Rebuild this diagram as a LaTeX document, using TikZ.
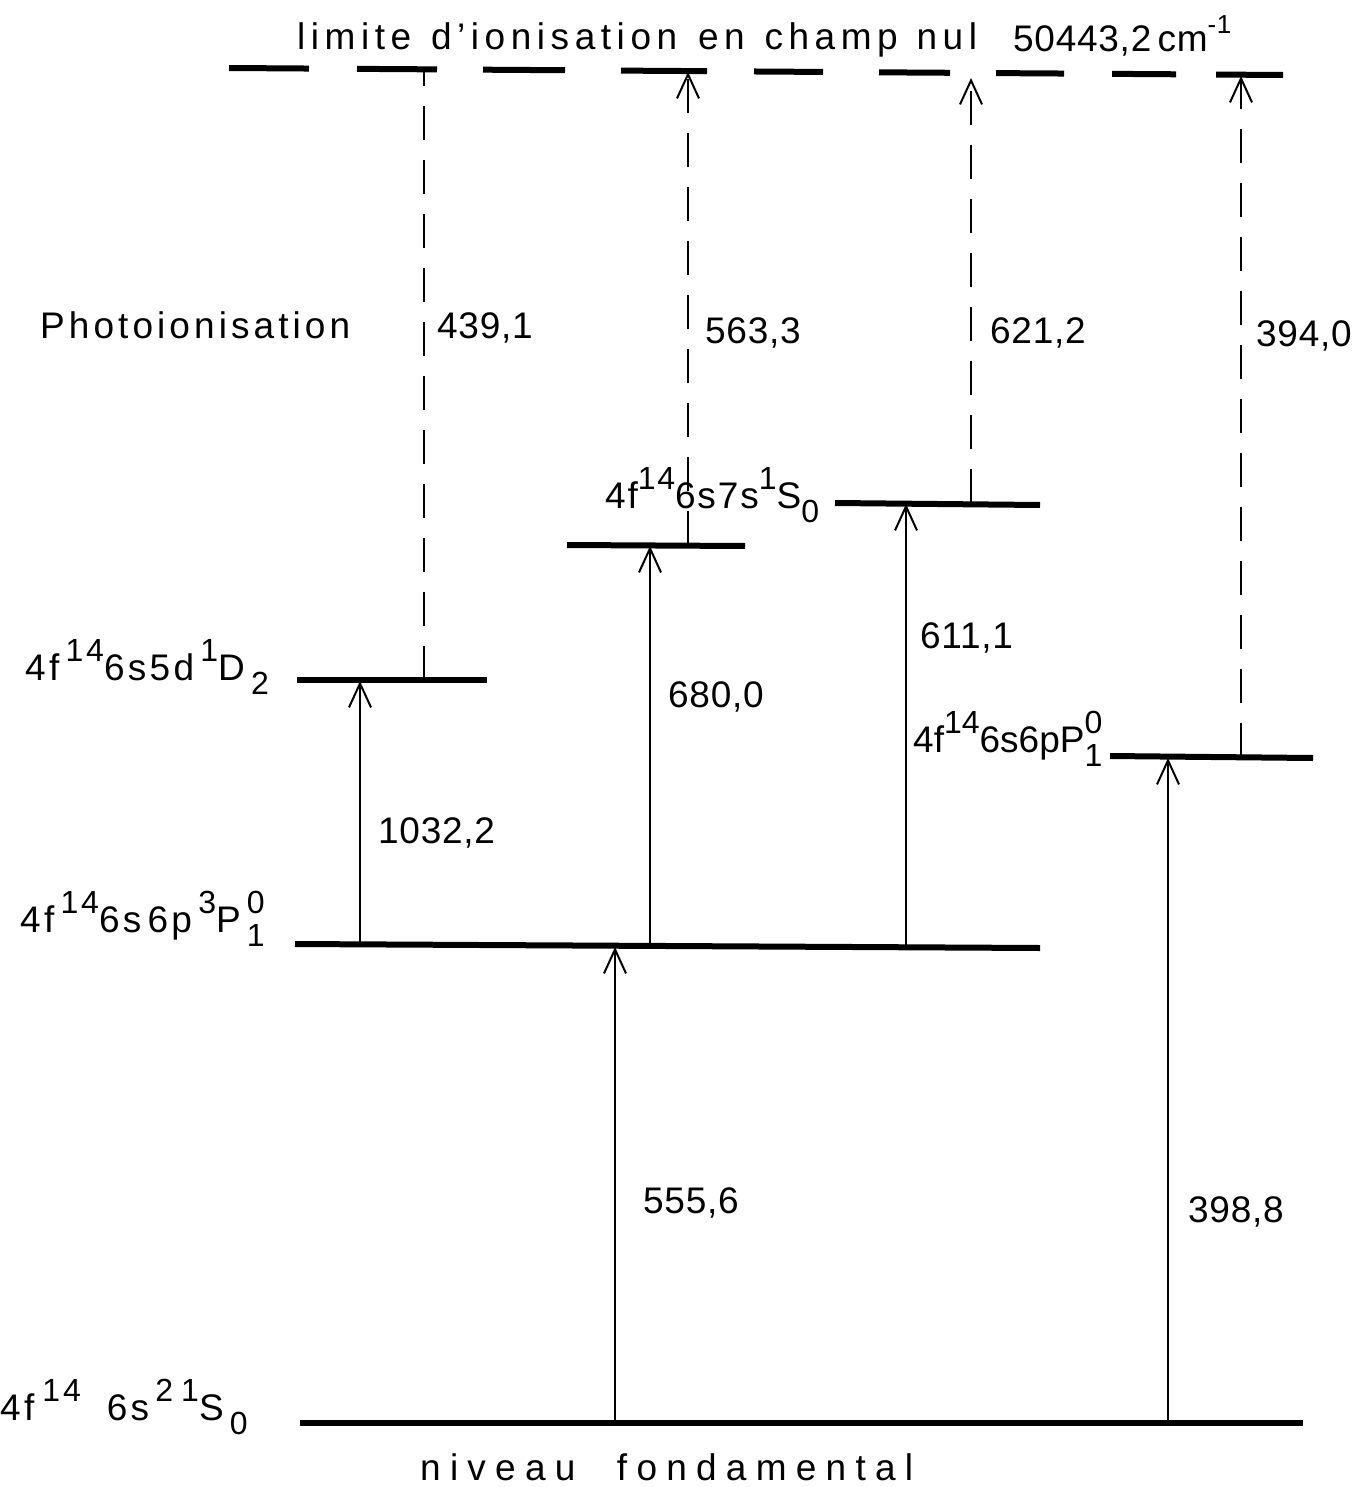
\documentclass[tikz,border=0pt]{standalone}
\usepackage{fontspec}
\setmainfont{Liberation Sans}
\usetikzlibrary{arrows.meta}
\newcommand\hi[1]{\raisebox{0.5em}{\fontsize{32}{32}\selectfont #1}}
\newcommand\lo[1]{\raisebox{-0.4em}{\fontsize{32}{32}\selectfont #1}}
\newcommand\ls[1]{\addfontfeature{LetterSpace=#1}}
\newcommand\gap[1]{\hspace{#1pt}}
\begin{document}
\begin{tikzpicture}[x=1pt,y=-1pt,
  level/.style={line width=6pt},
  barb/.style={-{Straight Barb[length=24pt,width=22pt,line width=2pt]}},
  arr/.style={line width=2pt,barb},
  dline/.style={line width=2.2pt,dash pattern=on 34pt off 20pt},
  topseg/.style={line width=6pt},
  lbl/.style={font=\fontsize{37}{44}\selectfont,inner sep=0pt,anchor=base west},
  num/.style={lbl,font=\fontsize{37}{44}\selectfont\ls{2}},
  term/.style={lbl,font=\fontsize{37}{44}\selectfont\ls{9}}]
\useasboundingbox (0,0) rectangle (1354,1487);
% top dashed ionisation limit
\foreach \a/\b in {229/309,357/437,483/565,621/707,754/823,879/950,996/1064,1112/1176,1216/1283}{
  \draw[topseg] (\a,{68+(\a-228)*7/1055}) -- (\b,{68+(\b-228)*7/1055});
}
% levels
\coordinate (gL) at (300,1423); \coordinate (gR) at (1303,1423);
\coordinate (tL) at (295,944);  \coordinate (tR) at (1040,948);
\coordinate (dL) at (297,680);  \coordinate (dR) at (487,680);
\coordinate (sL) at (567,545);  \coordinate (sR) at (745,546);
\coordinate (uL) at (835,503);  \coordinate (uR) at (1040,505);
\coordinate (pL) at (1110,756); \coordinate (pR) at (1313,758);
\draw[level] (gL) -- (gR);
\draw[level] (tL) -- (tR);
\draw[level] (dL) -- (dR);
\draw[level] (sL) -- (sR);
\draw[level] (uL) -- (uR);
\draw[level] (pL) -- (pR);
% excitation arrows
\coordinate (a1s) at (615,1423); \coordinate (a1e) at (615,947);
\coordinate (a2s) at (1168,1423); \coordinate (a2e) at (1168,758);
\coordinate (a3s) at (360,945); \coordinate (a3e) at (360,681);
\coordinate (a4s) at (650,946); \coordinate (a4e) at (650,546);
\coordinate (a5s) at (906,947); \coordinate (a5e) at (906,504);
\draw[arr] (a1s) -- (a1e);
\draw[arr] (a2s) -- (a2e);
\draw[arr] (a3s) -- (a3e);
\draw[arr] (a4s) -- (a4e);
\draw[arr] (a5s) -- (a5e);
% photoionisation (dashed)
\coordinate (i1s) at (424,680); \coordinate (i1e) at (424,70);
\coordinate (i2s) at (688,545); \coordinate (i2e) at (688,72);
\coordinate (i3s) at (971,503); \coordinate (i3e) at (971,78);
\coordinate (i4s) at (1241,757); \coordinate (i4e) at (1241,76);
\draw[dline] (i1s) -- (i1e);
\draw[dline,barb] (i2s) -- (i2e);
\draw[dline,barb] (i3s) -- (i3e);
\draw[dline,barb] (i4s) -- (i4e);
% labels
\node[lbl,font=\fontsize{37}{44}\selectfont\ls{15}] (title) at (297,50) {limite \gap{4}d’ionisation \gap{5}en \gap{4}champ \gap{3}nul};
\node[num] (ion) at (1013,52) {50443,2\,cm\raisebox{0.5em}{\fontsize{26}{26}\selectfont -1}};
\node[lbl,font=\fontsize{37}{44}\selectfont\ls{11}] (photo) at (40,338) {Photoionisation};
\node[num] (v1) at (437,338) {439,1};
\node[num] (v2) at (705,343) {563,3};
\node[num] (v3) at (990,343) {621,2};
\node[num] (v4) at (1256,346) {394,0};
\node[num] (v5) at (668,707) {680,0};
\node[num] (v6) at (920,648) {611,1};
\node[num] (v7) at (378,843) {1032,2};
\node[num] (v8) at (643,1213) {555,6};
\node[num] (v9) at (1188,1222) {398,8};
\node[lbl,font=\fontsize{37}{44}\selectfont\ls{5}] (l7s) at (605,508) {4f\hi{14}6s7s\hi{1}S\lo{0}};
\node[term] (l5d) at (25,680) {4f\,\hi{14}6s5d\,\hi{1}D\,\lo{2}};
\node[lbl] (l1p) at (913,752) {4f\hi{14}6s6pP\rlap{\hi{0}}\lo{1}};
\node[term] (l3p) at (20,932) {4f\,\hi{14}6s\,6p\,\hi{3}P\,\rlap{\hi{0}}\lo{1}};
\node[term] (lg) at (0,1420) {4f\gap{8}\hi{14}\gap{26}6s\,\hi{2}\gap{8}\hi{1}S\,\lo{0}};
\node[lbl,font=\fontsize{37}{44}\selectfont\ls{25}] (fond) at (420,1480) {niveau \gap{22}fondamental};
\end{tikzpicture}
\end{document}
